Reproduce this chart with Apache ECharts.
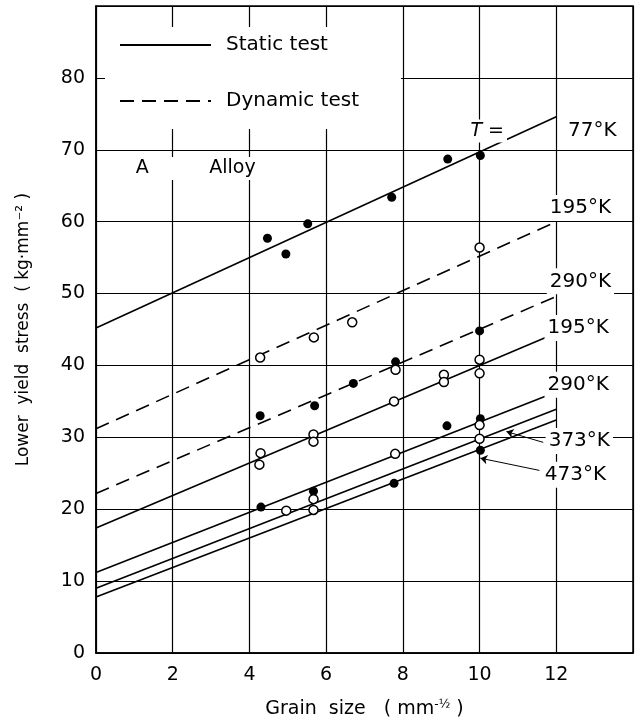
<!DOCTYPE html>
<html lang="en">
<head>
<meta charset="UTF-8">
<title>Lower yield stress vs grain size</title>
<script src="https://cdn.jsdelivr.net/npm/echarts@6/dist/echarts.min.js"></script>
<style>
  html, body { margin: 0; padding: 0; background: #fff; }
  #main { width: 642px; height: 722px; }
</style>
</head>
<body>
<div id="main"></div>
<script>
// fitted lines: value at grain size 0 and at grain size 12
var lineX = [0, 12];
var staticTemps = ['77°K', '195°K', '290°K', '373°K', '473°K'];
var staticStart = [45.2, 17.4, 11.2, 9.0, 7.8];
var staticEnd = [74.6, 44.5, 36.3, 33.9, 32.4];
var dynamicTemps = ['195°K', '290°K'];
var dynamicStart = [31.2, 22.2];
var dynamicEnd = [60.0, 49.6];

// measured points [grain size, stress]
var solidDots = [
  [4.47, 57.7], [4.95, 55.5], [5.52, 59.7], [7.71, 63.4], [9.17, 68.7], [10.02, 69.2],
  [4.28, 33.0], [5.70, 34.4], [6.71, 37.5], [7.81, 40.5], [10.0, 44.8],
  [4.30, 20.3], [5.67, 22.5], [9.15, 31.6], [10.02, 32.6],
  [7.77, 23.6], [10.02, 28.2]
];
var hollowDots = [
  [4.28, 41.1], [5.68, 43.9], [6.68, 46.0], [10.0, 56.4],
  [4.29, 27.8], [4.26, 26.2], [5.67, 30.4], [5.67, 29.4], [7.81, 39.4], [7.77, 35.0],
  [9.07, 38.7], [9.07, 37.7], [10.0, 40.8], [10.0, 38.9],
  [4.96, 19.8], [5.67, 21.4], [7.80, 27.7], [10.0, 31.7], [10.0, 29.8],
  [5.67, 19.9]
];

// temperature labels and where they sit (data coords)
var tempLabels = ['77°K', '195°K', '290°K', '195°K', '290°K', '373°K', '473°K'];
var tempLabelAt = [[12.94, 72.7], [12.63, 61.9], [12.63, 51.7], [12.57, 45.2], [12.57, 37.3], [12.6, 29.5], [12.5, 24.8]];
var arrows = [
  [[11.66, 29.3], [10.7, 30.8]],
  [[11.56, 25.4], [10.02, 27.1]]
];

var font = 'DejaVu Sans';
var ink = '#000';

var series = [];
staticTemps.forEach(function (t, i) {
  series.push({
    name: 'Static test',
    type: 'line',
    data: [[lineX[0], staticStart[i]], [lineX[1], staticEnd[i]]],
    symbol: 'none',
    lineStyle: { color: ink, width: 1.6, type: 'solid' },
    itemStyle: { color: ink },
    silent: true,
    z: 2
  });
});
dynamicTemps.forEach(function (t, i) {
  series.push({
    name: 'Dynamic test',
    type: 'line',
    data: [[lineX[0], dynamicStart[i]], [lineX[1], dynamicEnd[i]]],
    symbol: 'none',
    lineStyle: { color: ink, width: 1.6, type: [14, 8] },
    itemStyle: { color: ink },
    silent: true,
    z: 2
  });
});
series.push({
  name: 'solid',
  type: 'scatter',
  data: solidDots,
  symbol: 'circle',
  symbolSize: 9,
  itemStyle: { color: ink, opacity: 1 },
  z: 3
});
series.push({
  name: 'hollow',
  type: 'scatter',
  data: hollowDots,
  symbol: 'circle',
  symbolSize: 9,
  itemStyle: { color: '#fff', borderColor: ink, borderWidth: 1.5, opacity: 1 },
  z: 3
});
series.push({
  name: 'arrows',
  type: 'lines',
  coordinateSystem: 'cartesian2d',
  data: arrows.map(function (a) { return { coords: a }; }),
  symbol: ['none', 'arrow'],
  symbolSize: 7,
  lineStyle: { color: ink, width: 1, opacity: 1 },
  silent: true,
  z: 4
});
var labelBox = {
  show: true,
  position: [0, 0],
  align: 'center',
  verticalAlign: 'middle',
  fontFamily: font,
  fontSize: 20,
  color: ink,
  opacity: 1,
  backgroundColor: '#fff',
  padding: [3, 3]
};
series.push({
  name: 'temps',
  type: 'scatter',
  symbolSize: 0,
  itemStyle: { opacity: 1 },
  data: tempLabels.map(function (t, i) { return { name: t, value: tempLabelAt[i] }; }),
  label: Object.assign({}, labelBox, { formatter: '{b}' }),
  silent: true,
  z: 5
});
series.push({
  name: 'notes',
  type: 'scatter',
  symbolSize: 0,
  itemStyle: { opacity: 1 },
  data: [
    { name: 'A          Alloy', value: [2.6, 67.4] },
    { name: 'T =', value: [10.2, 72.6] }
  ],
  label: Object.assign({}, labelBox, {
    fontSize: 19,
    padding: [2, 3],
    formatter: function (p) {
      return p.name === 'T =' ? '{it|T} =' : p.name;
    },
    rich: { it: { fontStyle: 'italic', fontFamily: font, fontSize: 19, color: ink } }
  }),
  silent: true,
  z: 5
});

var option = {
  animation: false,
  backgroundColor: '#fff',
  grid: {
    left: 96, right: 9, top: 6, bottom: 69,
    outerBoundsMode: 'none',
    show: true, borderColor: ink, borderWidth: 1.5
  },
  legend: {
    data: ['Static test', 'Dynamic test'],
    orient: 'vertical',
    left: 105,
    top: 27,
    padding: [8, 42, 18, 14],
    itemWidth: 91,
    itemHeight: 14,
    itemGap: 36,
    selectedMode: false,
    backgroundColor: '#fff',
    itemStyle: { opacity: 0 },
    textStyle: { fontFamily: font, fontSize: 20, color: ink, padding: [0, 0, 0, 10] }
  },
  xAxis: {
    type: 'value',
    min: 0,
    max: 14,
    interval: 2,
    axisLine: { show: true, lineStyle: { color: ink, width: 1.5 } },
    axisTick: { show: false },
    axisLabel: {
      margin: 13,
      fontFamily: font,
      fontSize: 19,
      color: ink,
      formatter: function (v) { return v > 12 ? '' : v; }
    },
    splitLine: { show: true, lineStyle: { color: ink, width: 1.2 } },
    name: 'Grain  size   ( mm{sup|-½} )',
    nameLocation: 'middle',
    nameGap: 46,
    nameTextStyle: {
      fontFamily: font,
      fontSize: 19,
      color: ink,
      rich: { sup: { fontFamily: font, fontSize: 12, color: ink, padding: [0, 0, 9, 0] } }
    }
  },
  yAxis: {
    type: 'value',
    min: 0,
    max: 90,
    interval: 10,
    axisLine: { show: true, lineStyle: { color: ink, width: 1.5 } },
    axisTick: { show: false },
    axisLabel: {
      margin: 11,
      fontFamily: font,
      fontSize: 19,
      color: ink,
      formatter: function (v) { return v > 80 ? '' : v; }
    },
    splitLine: { show: true, lineStyle: { color: ink, width: 1.2 } },
    name: 'Lower  yield  stress  ( kg·mm⁻² )',
    nameLocation: 'middle',
    nameGap: 64,
    nameTextStyle: { fontFamily: font, fontSize: 17, color: ink }
  },
  series: series
};

var chart = echarts.init(document.getElementById('main'));
chart.setOption(option);
</script>
</body>
</html>
